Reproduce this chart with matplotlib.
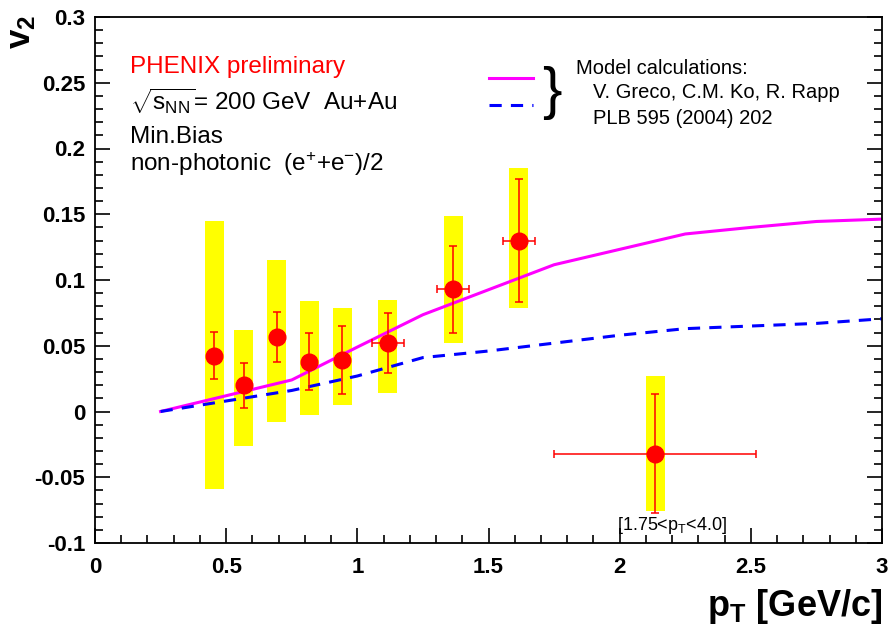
import matplotlib
matplotlib.use("Agg")
import matplotlib.pyplot as plt
from matplotlib.patches import Rectangle
from matplotlib.ticker import MultipleLocator

plt.rcParams['font.family'] = ['Liberation Sans', 'DejaVu Sans']
plt.rcParams['mathtext.fontset'] = 'custom'
plt.rcParams['mathtext.rm'] = 'Liberation Sans'
plt.rcParams['mathtext.it'] = 'Liberation Sans'
plt.rcParams['mathtext.bf'] = 'Liberation Sans:bold'

# PHENIX non-photonic electron v2 (min. bias Au+Au 200 GeV)
pt = [0.454, 0.567, 0.693, 0.817, 0.942, 1.116, 1.365, 1.616, 2.135]
v2 = [0.0425, 0.020, 0.057, 0.038, 0.039, 0.052, 0.093, 0.130, -0.032]
stat = [0.018, 0.017, 0.019, 0.022, 0.026, 0.023, 0.033, 0.047, 0.045]
pt_err = [0.0, 0.0, 0.0, 0.0, 0.0, 0.06, 0.061, 0.061, 0.385]
sys_top = [0.145, 0.062, 0.115, 0.084, 0.0785, 0.085, 0.149, 0.1855, 0.0273]
sys_bot = [-0.059, -0.026, -0.008, -0.003, 0.0046, 0.0139, 0.052, 0.079, -0.0757]

# model curves (Greco, Ko, Rapp)
model_pt = [0.25, 0.5, 0.75, 1.0, 1.25, 1.5, 1.75, 2.0, 2.25, 2.5, 2.75, 3.0]
model_a = [0.0, 0.012, 0.024, 0.049, 0.0736, 0.0926, 0.1116, 0.1233, 0.135, 0.140, 0.1445, 0.1463]
model_b = [0.0, 0.008, 0.016, 0.027, 0.041, 0.046, 0.052, 0.058, 0.063, 0.065, 0.067, 0.0705]

W, H = 890, 631
fig = plt.figure(figsize=(W / 100, H / 100), dpi=100)
ax = fig.add_axes([95 / W, 1 - 543 / H, (882 - 95) / W, (543 - 17) / H])

box_w = 0.072
for x, t, b in zip(pt, sys_top, sys_bot):
    ax.add_patch(Rectangle((x - box_w / 2, b), box_w, t - b, facecolor='#ffff00',
                           edgecolor='none', zorder=1))

ax.plot(model_pt, model_a, color='#ff00ff', lw=2.2, zorder=2)
ax.plot(model_pt, model_b, color='#0000ff', lw=2.2, ls=(0, (4, 3)), zorder=2)

ax.errorbar(pt, v2, yerr=stat, xerr=pt_err, fmt='none', ecolor='red', elinewidth=1.1,
            capsize=3, capthick=1.1, zorder=3)
ax.plot(pt, v2, 'o', color='red', ms=12, mec='red', zorder=4)

ax.set_xlim(0, 3)
ax.set_ylim(-0.1, 0.3)
ax.xaxis.set_major_locator(MultipleLocator(0.5))
ax.xaxis.set_minor_locator(MultipleLocator(0.1))
ax.yaxis.set_major_locator(MultipleLocator(0.05))
ax.yaxis.set_minor_locator(MultipleLocator(0.01))
ax.tick_params(which='both', direction='in', right=True, top=False, width=1.2)
ax.tick_params(which='major', length=11)
ax.tick_params(which='minor', length=6)
ax.tick_params(axis='x', pad=10)
ax.tick_params(axis='y', pad=7)
ax.set_xticks([0, 0.5, 1, 1.5, 2, 2.5, 3])
ax.set_xticklabels(['0', '0.5', '1', '1.5', '2', '2.5', '3'])
ax.set_yticks([-0.1, -0.05, 0, 0.05, 0.1, 0.15, 0.2, 0.25, 0.3])
ax.set_yticklabels(['-0.1', '-0.05', '0', '0.05', '0.1', '0.15', '0.2', '0.25', '0.3'])
for lab in ax.get_xticklabels() + ax.get_yticklabels():
    lab.set_fontweight('bold')
    lab.set_fontsize(16)
for s in ax.spines.values():
    s.set_linewidth(1.3)

fig.text(22 / W, 1 - 32 / H, r'$\mathbf{v}_\mathbf{2}$', fontsize=25, rotation=90,
         ha='center', va='center')
fig.text(882 / W, 1 - 607 / H, r'$\mathbf{p}_\mathbf{T}$ [GeV/c]', fontsize=26,
         fontweight='bold', ha='right', va='center')

tx = 130 / W
fig.text(tx, 1 - 67 / H, 'PHENIX preliminary', color='red', fontsize=17.5, va='center')
fig.text(tx, 1 - 101 / H, r'$\sqrt{s_{\mathrm{NN}}}$= 200 GeV  Au+Au', fontsize=17.5, va='center')
fig.text(tx, 1 - 137 / H, 'Min.Bias', fontsize=17.5, va='center')
fig.text(tx, 1 - 164 / H, r'non-photonic  (e$^{+}$+e$^{-}$)/2', fontsize=17.5, va='center')

fig.add_artist(plt.Line2D([489 / W, 533 / W], [1 - 78 / H, 1 - 78 / H], color='#ff00ff', lw=2.2))
fig.add_artist(plt.Line2D([489 / W, 533 / W], [1 - 105 / H, 1 - 105 / H], color='#0000ff',
                          lw=2.2, ls=(0, (4, 3))))
fig.text(552 / W, 1 - 93 / H, '}', fontsize=42, ha='center', va='center')
fig.text(576 / W, 1 - 68 / H, 'Model calculations:', fontsize=14.5, va='center')
fig.text(593 / W, 1 - 93 / H, 'V. Greco, C.M. Ko, R. Rapp', fontsize=14.5, va='center')
fig.text(593 / W, 1 - 118 / H, 'PLB 595 (2004) 202', fontsize=14.5, va='center')

ax.text(2.2, -0.087, r'[1.75<p$_{\mathrm{T}}$<4.0]', fontsize=13, ha='center', va='center')

fig.savefig('out.png', dpi=100)
